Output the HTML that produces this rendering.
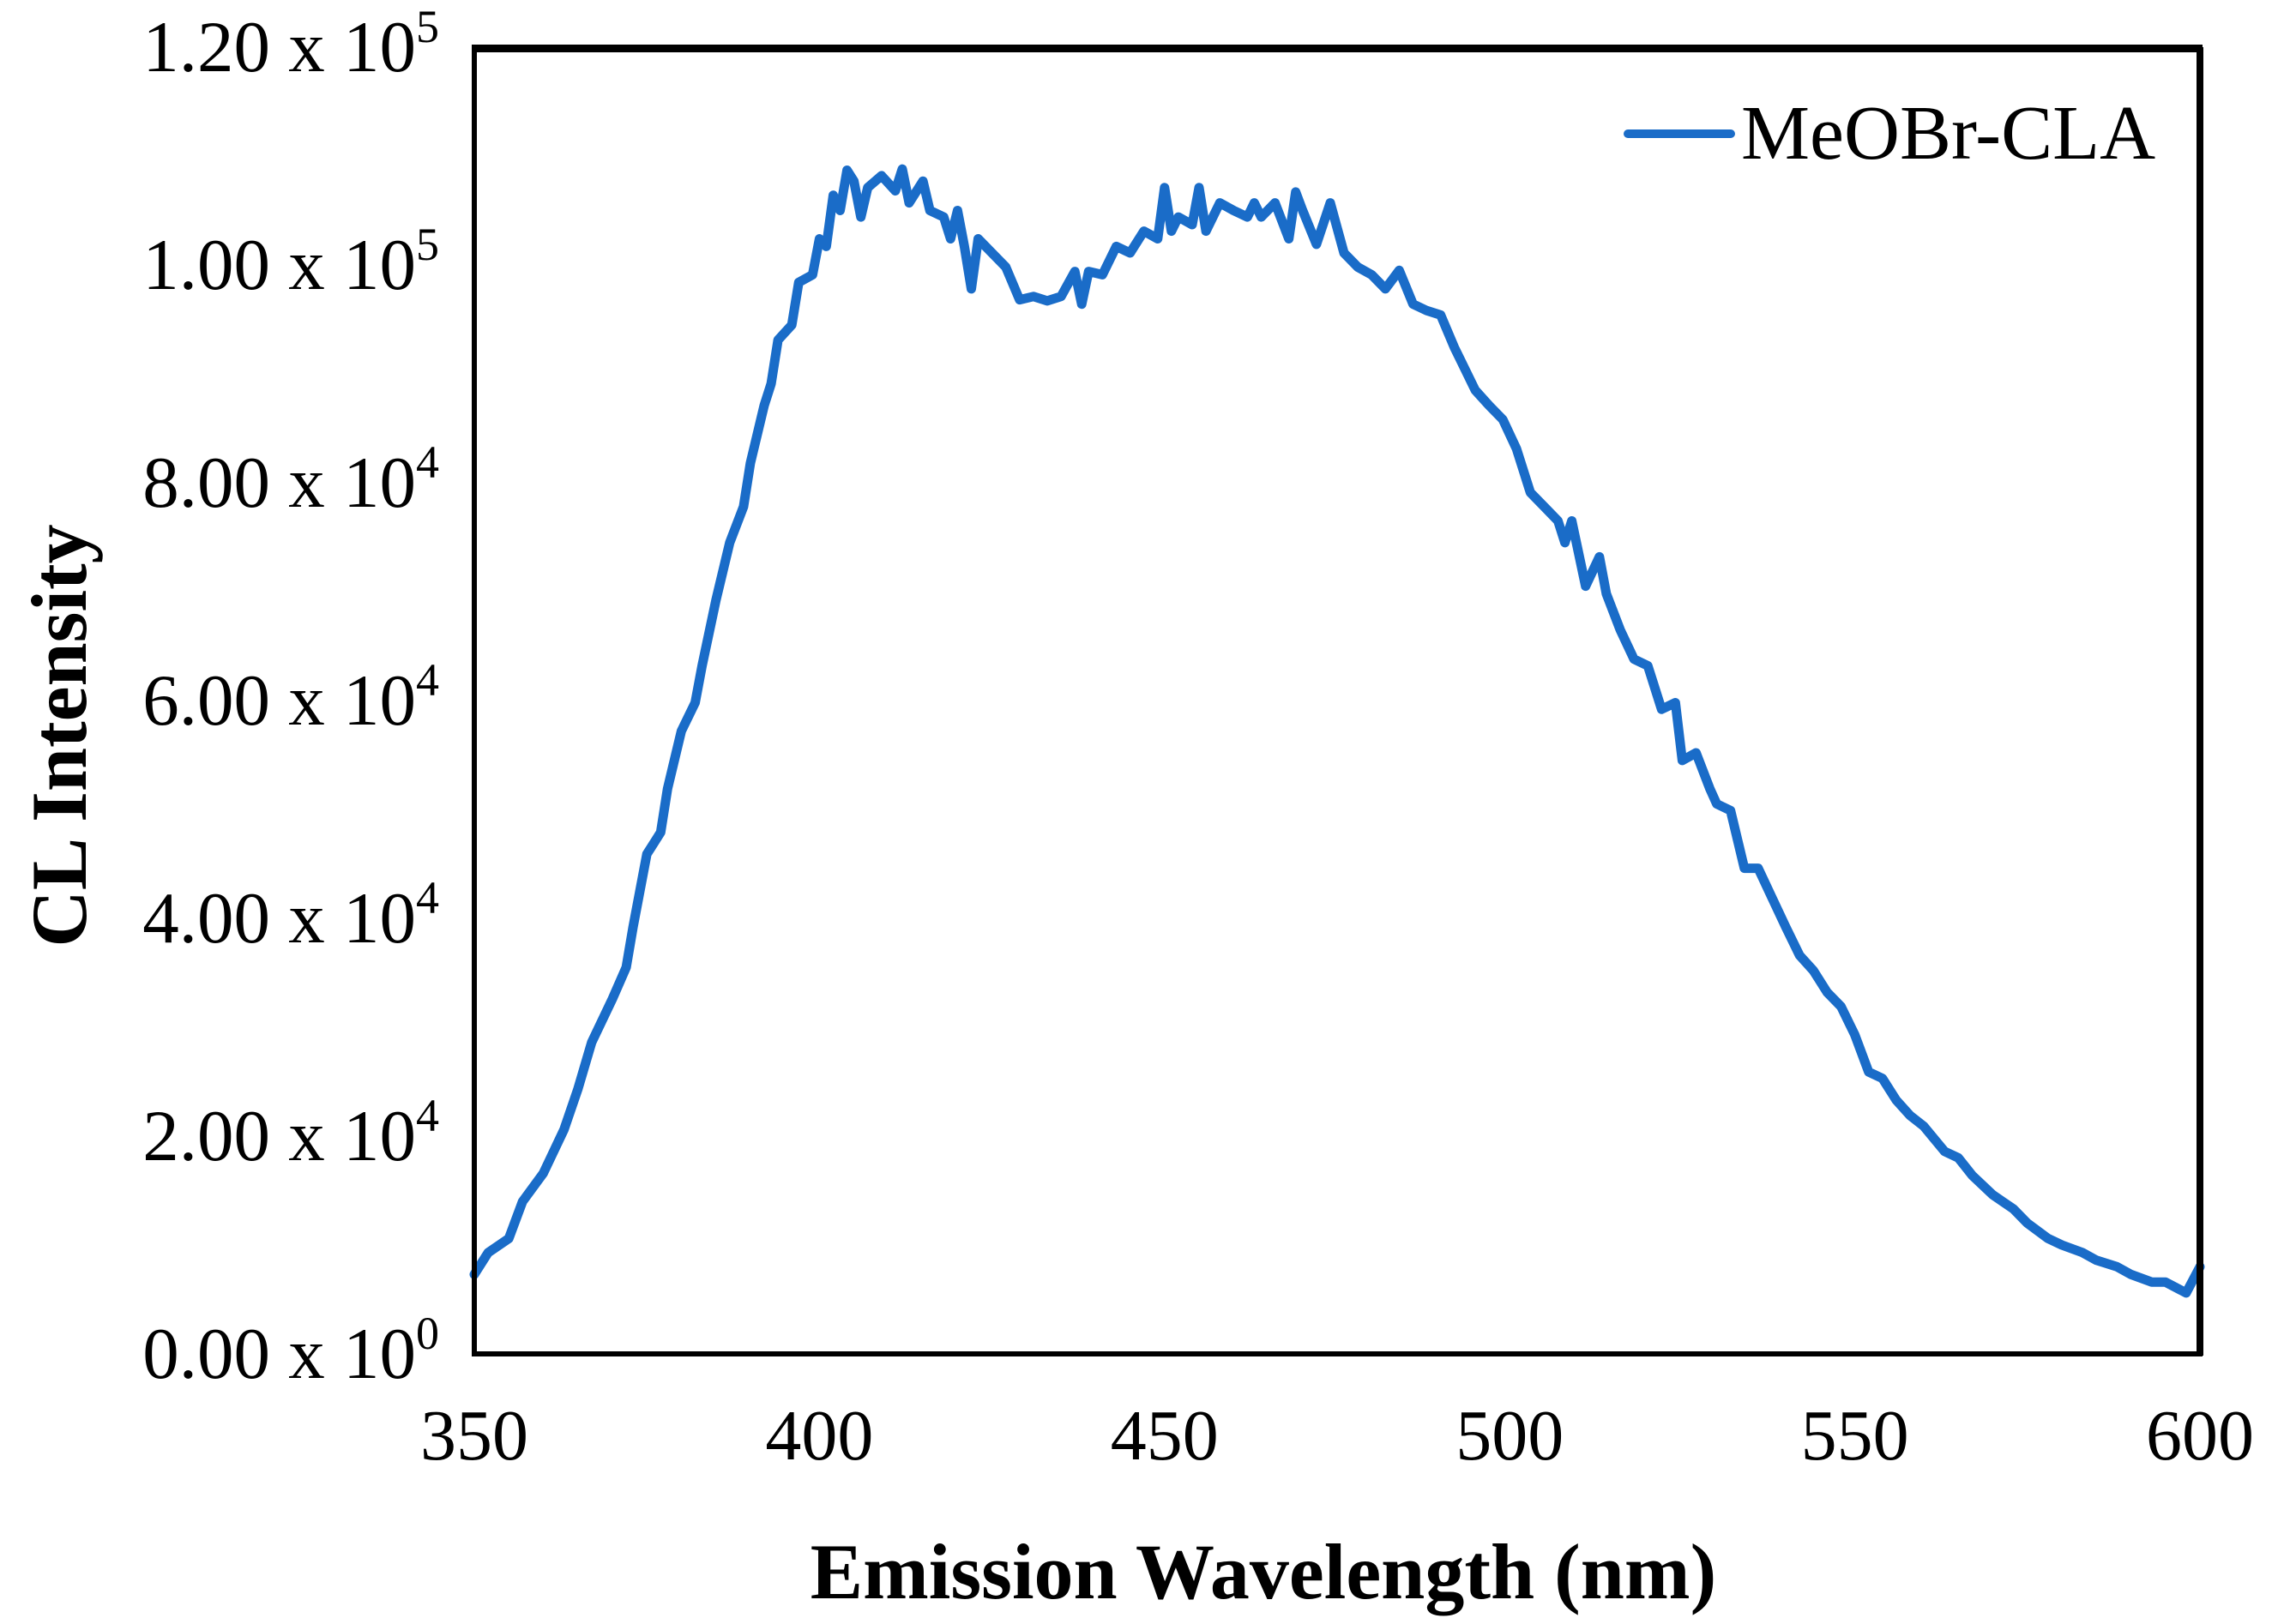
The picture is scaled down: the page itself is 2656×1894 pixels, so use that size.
<!DOCTYPE html>
<html><head><meta charset="utf-8"><style>
html,body{margin:0;padding:0;background:#fff;}
svg{display:block;font-family:"Liberation Serif",serif;}
</style></head><body>
<svg id="chart" width="2656" height="1894" viewBox="0 0 2656 1894" xmlns="http://www.w3.org/2000/svg">
<rect x="0" y="0" width="2656" height="1894" fill="#fff"/>
<g id="yticks"></g>
<g id="xticks"></g>
<path id="series" fill="none" stroke="#1a6cc8" stroke-width="11" stroke-linejoin="round" stroke-linecap="round"/>
<rect x="553" y="55" width="2012" height="1524" fill="none" stroke="#000" stroke-width="6"/>
<line x1="553" y1="57" x2="2567" y2="57" stroke="#000" stroke-width="8"/>
<line x1="2565" y1="55" x2="2565" y2="1581" stroke="#000" stroke-width="8"/>
<g>
<line x1="1898" y1="156" x2="2018" y2="156" stroke="#1a6cc8" stroke-width="10" stroke-linecap="round"/>
<text x="2030" y="185" font-size="90">MeOBr-CLA</text>
</g>
<text x="1473" y="1864" font-size="92" font-weight="bold" text-anchor="middle">Emission Wavelength (nm)</text>
<text transform="translate(100,858) rotate(-90)" font-size="92" font-weight="bold" text-anchor="middle">CL Intensity</text>
</svg>
<script>
const wavelengths=[350,352,355,357,360,363,365,367,370,372,373,375,377,378,380,382,383,385,387,389,390,392,393,394,396,397,399,400,401,402,403,404,405,406,407,409,411,412,413,415,416,418,419,420,421,422,423,425,427,429,431,433,435,437,438,439,441,443,445,447,449,450,451,452,454,455,456,458,460,462,463,464,466,468,469,470,472,474,476,478,480,482,484,486,488,490,492,493,495,497,499,501,503,505,507,508,509,511,513,514,516,518,520,522,524,525,527,529,530,532,534,536,538,540,542,544,546,548,550,552,554,556,558,560,563,565,567,570,573,575,578,580,583,585,588,590,593,595,598,600];
const intensity=[7300,9300,10600,14000,16600,20600,24300,28600,32600,35500,39200,45900,47900,51900,57200,59800,63200,69200,74500,77800,81800,87100,89100,93100,94500,98400,99100,102400,101700,106400,105000,108700,107700,104400,107100,108200,106800,108800,105700,107700,105000,104400,102400,105000,101700,97800,102400,101100,99800,96800,97100,96700,97100,99400,96400,99400,99100,101700,101100,103100,102400,107100,103100,104400,103700,107100,103100,105700,105000,104400,105700,104400,105700,102400,106700,105000,101900,105700,101100,99800,99100,97800,99500,96400,95800,95400,92400,91100,88500,87100,85800,83100,79100,77800,76500,74500,76500,70500,73200,69800,66500,63800,63200,59200,59800,54500,55200,51900,50500,49900,44600,44600,41900,39200,36600,35200,33200,31900,29300,25900,25300,23300,21900,20900,18600,18000,16400,14600,13300,12000,10600,10000,9300,8600,8000,7300,6600,6600,5600,8000];
const xTickValues=[350,400,450,500,550,600];
const yTickMantissa=["0.00","2.00","4.00","6.00","8.00","1.00","1.20"];
const yTickExp=["0","4","4","4","4","5","5"];
const yTickValues=[0,20000,40000,60000,80000,100000,120000];

const X0=553,X1=2565,Y0=1579,Y1=55;
function xs(v){return X0+(v-350)/(600-350)*(X1-X0);}
function ys(v){return Y0-(v/120000)*(Y0-Y1);}
const NS="http://www.w3.org/2000/svg";
let d="";
for(let i=0;i<wavelengths.length;i++){d+=(i?"L":"M")+xs(wavelengths[i]).toFixed(1)+","+ys(intensity[i]).toFixed(1);}
document.getElementById("series").setAttribute("d",d);
const yg=document.getElementById("yticks");
for(let i=0;i<yTickValues.length;i++){
  const t=document.createElementNS(NS,"text");
  
  
  t.setAttribute("x",512);t.setAttribute("y",ys(yTickValues[i])+28);
  t.setAttribute("font-size","85");t.setAttribute("text-anchor","end");
  t.textContent=yTickMantissa[i]+" x 10";
  const s=document.createElementNS(NS,"tspan");
  s.setAttribute("font-size","54");s.setAttribute("dy","-34");
  s.textContent=yTickExp[i];
  t.appendChild(s);
  yg.appendChild(t);
}
const xg=document.getElementById("xticks");
for(let i=0;i<xTickValues.length;i++){
  const t=document.createElementNS(NS,"text");
  
  
  t.setAttribute("x",xs(xTickValues[i]));t.setAttribute("y",1702);
  t.setAttribute("font-size","84");t.setAttribute("text-anchor","middle");
  t.textContent=xTickValues[i];
  xg.appendChild(t);
}
</script>
</body></html>
